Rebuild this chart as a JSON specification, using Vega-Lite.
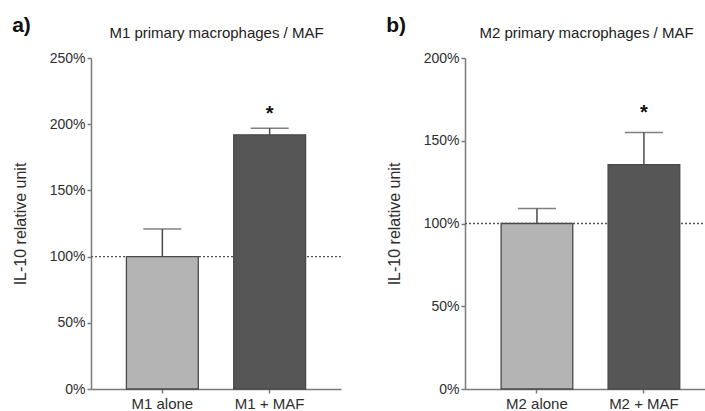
{
  "$schema": "https://vega.github.io/schema/vega-lite/v6.json",
  "padding": {"left": 12, "top": 15, "right": 0, "bottom": 0},
  "background": "white",
  "config": {
    "font": "Liberation Sans",
    "view": {"stroke": null},
    "axis": {"domainColor": "#7a7a7a", "domainWidth": 1.5, "tickColor": "#7a7a7a", "tickWidth": 1.5, "tickSize": 4, "labelColor": "#2e2e2e", "labelFontSize": 14, "titleColor": "#2e2e2e", "titleFontSize": 16, "titleFontWeight": "normal", "grid": false},
    "title": {"fontSize": 21, "fontWeight": "bold", "anchor": "start", "frame": "bounds", "color": "#111111"},
    "concat": {"spacing": 44}
  },
  "hconcat": [
    {
      "title": {"text": "a)", "dy": 15},
      "width": 250,
      "height": 331,
      "data": {"values": [
        {"group": "M1 alone", "value": 100, "err": 120.8},
        {"group": "M1 + MAF", "value": 192, "err": 197, "sig": "*", "star_pos": 207.8}
      ]},
      "resolve": {"axis": {"x": "independent"}},
      "layer": [
        {
          "data": {"values": [{"ref": 100}]},
          "mark": {"type": "rule", "strokeDash": [2, 2], "color": "#555555", "strokeWidth": 1.3},
          "encoding": {"y": {"field": "ref", "type": "quantitative", "title": "IL-10 relative unit"}}
        },
        {
          "mark": {"type": "bar", "stroke": "#4a4a4a", "strokeWidth": 1.3},
          "encoding": {
            "x": {"field": "group", "type": "nominal", "sort": null, "scale": {"paddingInner": 0.33, "paddingOuter": 0.33}, "axis": {"title": null, "labelAngle": 0, "labelFontSize": 15, "labelPadding": 3}},
            "y": {"field": "value", "type": "quantitative", "title": "IL-10 relative unit", "scale": {"domain": [0, 250], "nice": false}, "axis": {"values": [0, 50, 100, 150, 200, 250], "labelExpr": "datum.value + '%'", "titlePadding": 21, "labelPadding": 2}},
            "color": {"field": "group", "type": "nominal", "sort": null, "scale": {"range": ["#b4b4b4", "#565656"]}, "legend": null}
          }
        },
        {
          "mark": {"type": "rule", "color": "#4a4a4a", "strokeWidth": 1.5},
          "encoding": {
            "x": {"field": "group", "type": "nominal", "sort": null, "axis": null},
            "y": {"field": "value", "type": "quantitative", "title": "IL-10 relative unit"},
            "y2": {"field": "err"}
          }
        },
        {
          "mark": {"type": "tick", "color": "#4a4a4a", "thickness": 1.5, "size": 38},
          "encoding": {
            "x": {"field": "group", "type": "nominal", "sort": null, "axis": null},
            "y": {"field": "err", "type": "quantitative", "title": "IL-10 relative unit"}
          }
        },
        {
          "transform": [{"filter": "isValid(datum.star_pos)"}],
          "mark": {"type": "text", "fontSize": 20, "fontWeight": "bold", "color": "#111111", "baseline": "middle"},
          "encoding": {
            "x": {"field": "group", "type": "nominal", "sort": null, "axis": {"orient": "top", "title": "M1 primary macrophages / MAF", "titleFontSize": 15, "titleColor": "#222222", "labels": false, "ticks": false, "domain": false, "titlePadding": 18}},
            "y": {"field": "star_pos", "type": "quantitative", "title": "IL-10 relative unit"},
            "text": {"field": "sig"}
          }
        }
      ]
    },
    {
      "title": {"text": "b)", "dy": 15},
      "width": 242,
      "height": 331,
      "data": {"values": [
        {"group": "M2 alone", "value": 100, "err": 109},
        {"group": "M2 + MAF", "value": 135.5, "err": 155, "sig": "*", "star_pos": 166.8}
      ]},
      "resolve": {"axis": {"x": "independent"}},
      "layer": [
        {
          "data": {"values": [{"ref": 100}]},
          "mark": {"type": "rule", "strokeDash": [2, 2], "color": "#555555", "strokeWidth": 1.3},
          "encoding": {"y": {"field": "ref", "type": "quantitative", "title": "IL-10 relative unit"}}
        },
        {
          "mark": {"type": "bar", "stroke": "#4a4a4a", "strokeWidth": 1.3},
          "encoding": {
            "x": {"field": "group", "type": "nominal", "sort": null, "scale": {"paddingInner": 0.33, "paddingOuter": 0.296, "align": 0.57}, "axis": {"title": null, "labelAngle": 0, "labelFontSize": 15, "labelPadding": 3}},
            "y": {"field": "value", "type": "quantitative", "title": "IL-10 relative unit", "scale": {"domain": [0, 200], "nice": false}, "axis": {"values": [0, 50, 100, 150, 200], "labelExpr": "datum.value + '%'", "titlePadding": 21, "labelPadding": 2}},
            "color": {"field": "group", "type": "nominal", "sort": null, "scale": {"range": ["#b4b4b4", "#565656"]}, "legend": null}
          }
        },
        {
          "mark": {"type": "rule", "color": "#4a4a4a", "strokeWidth": 1.5},
          "encoding": {
            "x": {"field": "group", "type": "nominal", "sort": null, "axis": null},
            "y": {"field": "value", "type": "quantitative", "title": "IL-10 relative unit"},
            "y2": {"field": "err"}
          }
        },
        {
          "mark": {"type": "tick", "color": "#4a4a4a", "thickness": 1.5, "size": 38},
          "encoding": {
            "x": {"field": "group", "type": "nominal", "sort": null, "axis": null},
            "y": {"field": "err", "type": "quantitative", "title": "IL-10 relative unit"}
          }
        },
        {
          "transform": [{"filter": "isValid(datum.star_pos)"}],
          "mark": {"type": "text", "fontSize": 20, "fontWeight": "bold", "color": "#111111", "baseline": "middle"},
          "encoding": {
            "x": {"field": "group", "type": "nominal", "sort": null, "axis": {"orient": "top", "title": "M2 primary macrophages / MAF", "titleFontSize": 15, "titleColor": "#222222", "labels": false, "ticks": false, "domain": false, "titlePadding": 18}},
            "y": {"field": "star_pos", "type": "quantitative", "title": "IL-10 relative unit"},
            "text": {"field": "sig"}
          }
        }
      ]
    }
  ]
}
